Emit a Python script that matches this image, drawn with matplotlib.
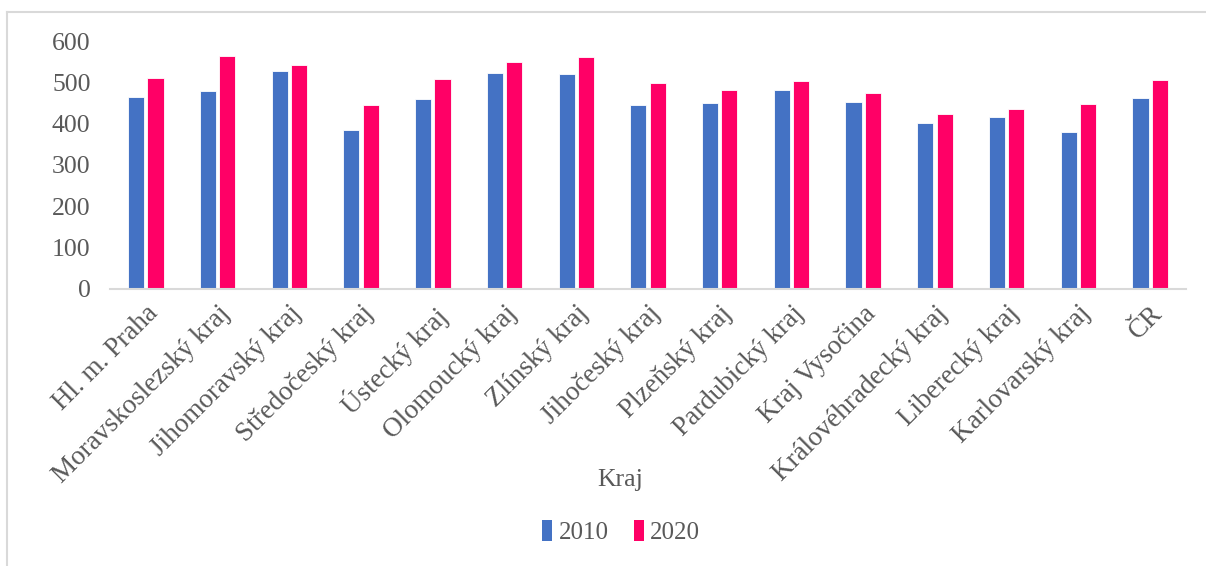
import matplotlib.pyplot as plt
import numpy as np
from matplotlib.lines import Line2D
from matplotlib.patches import Patch

regions = [
    "Hl. m. Praha", "Moravskoslezský kraj", "Jihomoravský kraj",
    "Středočeský kraj", "Ústecký kraj", "Olomoucký kraj", "Zlínský kraj",
    "Jihočeský kraj", "Plzeňský kraj", "Pardubický kraj", "Kraj Vysočina",
    "Královéhradecký kraj", "Liberecký kraj", "Karlovarský kraj", "ČR",
]
values_2010 = [464, 479, 528, 384, 460, 522, 521, 446, 451, 483, 453, 402, 416, 379, 462]
values_2020 = [510, 564, 542, 445, 509, 549, 562, 499, 483, 504, 474, 423, 435, 449, 506]
years = ["2010", "2020"]
y_ticks = [0, 100, 200, 300, 400, 500, 600]

blue = "#4472C4"
pink = "#FF0066"
text_gray = "#595959"
line_gray = "#D9D9D9"
font = "Liberation Serif"

W, H = 1206, 566
fig = plt.figure(figsize=(W / 100, H / 100), dpi=100)
ax = fig.add_axes([110 / W, 1 - 288.5 / H, (1186 - 110) / W, (288.5 - 41.3) / H])

x = np.arange(len(regions))
width = 0.225
offset = 0.135
ax.bar(x - offset, values_2010, width, color=blue, edgecolor="white", linewidth=0.6)
ax.bar(x + offset, values_2020, width, color=pink, edgecolor="white", linewidth=0.6)

ax.set_xlim(-0.5, len(regions) - 0.5)
ax.set_ylim(0, 600)
ax.set_yticks(y_ticks)
ax.set_yticklabels([str(v) for v in y_ticks], family=font, fontsize=18.5, color=text_gray)
ax.set_xticks(x)
ax.set_xticklabels(regions, rotation=45, ha="right", va="top", rotation_mode="anchor",
                   family=font, fontsize=19.5, color=text_gray)
ax.tick_params(axis="both", length=0)
ax.tick_params(axis="y", pad=14)
ax.tick_params(axis="x", pad=9)

for side in ["top", "right", "left"]:
    ax.spines[side].set_visible(False)
ax.spines["bottom"].set_color(line_gray)
ax.spines["bottom"].set_linewidth(1.5)

fig.text(620 / W, 1 - 480 / H, "Kraj", ha="center", va="center",
         family=font, fontsize=18.5, color=text_gray)

handles = [Patch(facecolor=blue), Patch(facecolor=pink)]
fig.legend(handles, years, loc="center", bbox_to_anchor=(621 / W, 1 - 532 / H), ncol=2,
           frameon=False, handlelength=0.42, handleheight=0.9, handletextpad=0.25,
           columnspacing=1.0, prop={"family": font, "size": 18},
           labelcolor=text_gray)

# outer chart frame
fig.add_artist(Line2D([7 / W, 1], [1 - 12 / H, 1 - 12 / H], color=line_gray, linewidth=1.5))
fig.add_artist(Line2D([7 / W, 7 / W], [0, 1 - 12 / H], color=line_gray, linewidth=1.5))

fig.savefig("out.png", dpi=100)
